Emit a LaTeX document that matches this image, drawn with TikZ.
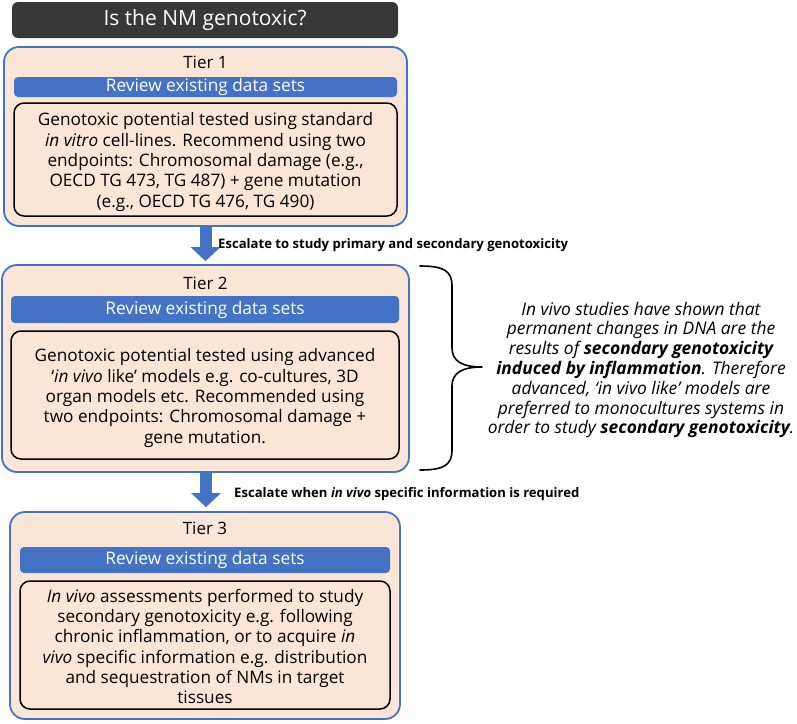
\documentclass[tikz,border=0pt]{standalone}
\usepackage{fontspec}
\setmainfont{Open Sans}
\usetikzlibrary{arrows.meta}
\definecolor{peach}{HTML}{FBE5D6}
\definecolor{tierblue}{HTML}{4472C4}
\definecolor{titlegray}{HTML}{383838}
\tikzset{
  titlebox/.style={fill=titlegray, rounded corners=6pt, text=white, inner sep=0pt,
    font=\fontsize{21}{24}\selectfont},
  tierbox/.style={draw=tierblue, line width=1.8pt, fill=peach, rounded corners=15pt, inner sep=0pt},
  tierlabel/.style={font=\fontsize{17}{20}\selectfont, inner sep=0pt},
  reviewbar/.style={fill=tierblue, rounded corners=4pt, text=white, inner sep=0pt,
    font=\fontsize{17.3}{20}\selectfont},
  innerbox/.style={draw=black, line width=1.5pt, fill=peach, rounded corners=10pt, inner sep=0pt},
  innertext/.style={align=center, inner sep=0pt, font=\fontsize{17.2}{20.3}\selectfont},
  escarrow/.style={draw=tierblue, line width=12pt, -{Triangle[width=29pt,length=14pt]}, tierblue},
  esclabel/.style={font=\fontsize{13.1}{15}\selectfont\bfseries, anchor=west, inner sep=0pt},
  notetext/.style={align=center, font=\fontsize{17.4}{19.8}\selectfont\itshape, inner sep=0pt},
  bracepath/.style={draw=black, line width=1.6pt, line cap=round, line join=round}
}
\begin{document}
\begin{tikzpicture}[x=1pt,y=-1pt]
\path[use as bounding box, fill=white] (0,0) rectangle (797,723);

% title
\node[titlebox, minimum width=386pt, minimum height=36pt] (title) at (205,20) {Is the NM genotoxic?};

% Tier 1
\node[tierbox, minimum width=403pt, minimum height=179pt] (t1) at (205.5,136.5) {};
\node[tierlabel] (t1lab) at (205.5,62.5) {Tier 1};
\node[reviewbar, minimum width=383pt, minimum height=20pt] (bar1) at (205.5,87) {Review existing data sets};
\node[innerbox, minimum width=383pt, minimum height=113pt] (in1) at (205.5,159.5) {};
\node[innertext] (in1txt) at (205.5,162)
 {Genotoxic potential tested using standard\\
  \textit{in vitro} cell-lines. Recommend using two\\
  endpoints: Chromosomal damage (e.g.,\\
  OECD TG 473, TG 487) + gene mutation\\
  (e.g., OECD TG 476, TG 490)};

% Tier 2
\node[tierbox, minimum width=407pt, minimum height=207pt] (t2) at (205.5,368.5) {};
\node[tierlabel] (t2lab) at (205.5,283.5) {Tier 2};
\node[reviewbar, minimum width=388pt, minimum height=27pt] (bar2) at (205,309.5) {Review existing data sets};
\node[innerbox, minimum width=388pt, minimum height=128pt] (in2) at (205,395) {};
\node[innertext] (in2txt) at (205,398)
 {Genotoxic potential tested using advanced\\
  ‘\textit{in vivo} like’ models e.g. co-cultures, 3D\\
  organ models etc. Recommended using\\
  two endpoints: Chromosomal damage +\\
  gene mutation.};

% Tier 3
\node[tierbox, minimum width=390pt, minimum height=207pt] (t3) at (205,615.5) {};
\node[tierlabel] (t3lab) at (205,528.5) {Tier 3};
\node[reviewbar, minimum width=370pt, minimum height=26pt] (bar3) at (205,560) {Review existing data sets};
\node[innerbox, minimum width=370pt, minimum height=128pt] (in3) at (205,645) {};
\node[innertext] (in3txt) at (205,646.5)
 {\textit{In vivo} assessments performed to study\\
  secondary genotoxicity e.g. following\\
  chronic inflammation, or to acquire \textit{in}\\
  \textit{vivo} specific information e.g. distribution\\
  and sequestration of NMs in target\\
  tissues};

% escalation arrows
\draw[escarrow] (t1.south -| 205.5,0) -- ([yshift=3pt]t2.north -| 205.5,0);
\draw[escarrow] (t2.south -| 206,0) -- ([yshift=4pt]t3.north -| 206,0);
\node[esclabel] (esc1) at (218,245) {Escalate to study primary and secondary genotoxicity};
\node[esclabel] (esc2) at (234,494) {Escalate when \textit{in vivo} specific information is required};

% brace
\coordinate (btop) at (420,266);
\coordinate (btip) at (482,367);
\coordinate (bbot) at (420,470);
\draw[bracepath] (btop) .. controls (444,266) and (452,271) .. (452,286)
  -- (452,348) .. controls (452,361) and (462,367) .. (btip)
  .. controls (462,367) and (452,373) .. (452,386)
  -- (452,450) .. controls (452,465) and (444,470) .. (bbot);

% note
\node[notetext] (note) at (641,370)
 {In vivo studies have shown that\\
  permanent changes in DNA are the\\
  results of \textbf{secondary genotoxicity}\\
  \textbf{induced by inflammation}. Therefore\\
  advanced, ‘in vivo like’ models are\\
  preferred to monocultures systems in\\
  order to study \textbf{secondary genotoxicity}.};
\end{tikzpicture}
\end{document}
